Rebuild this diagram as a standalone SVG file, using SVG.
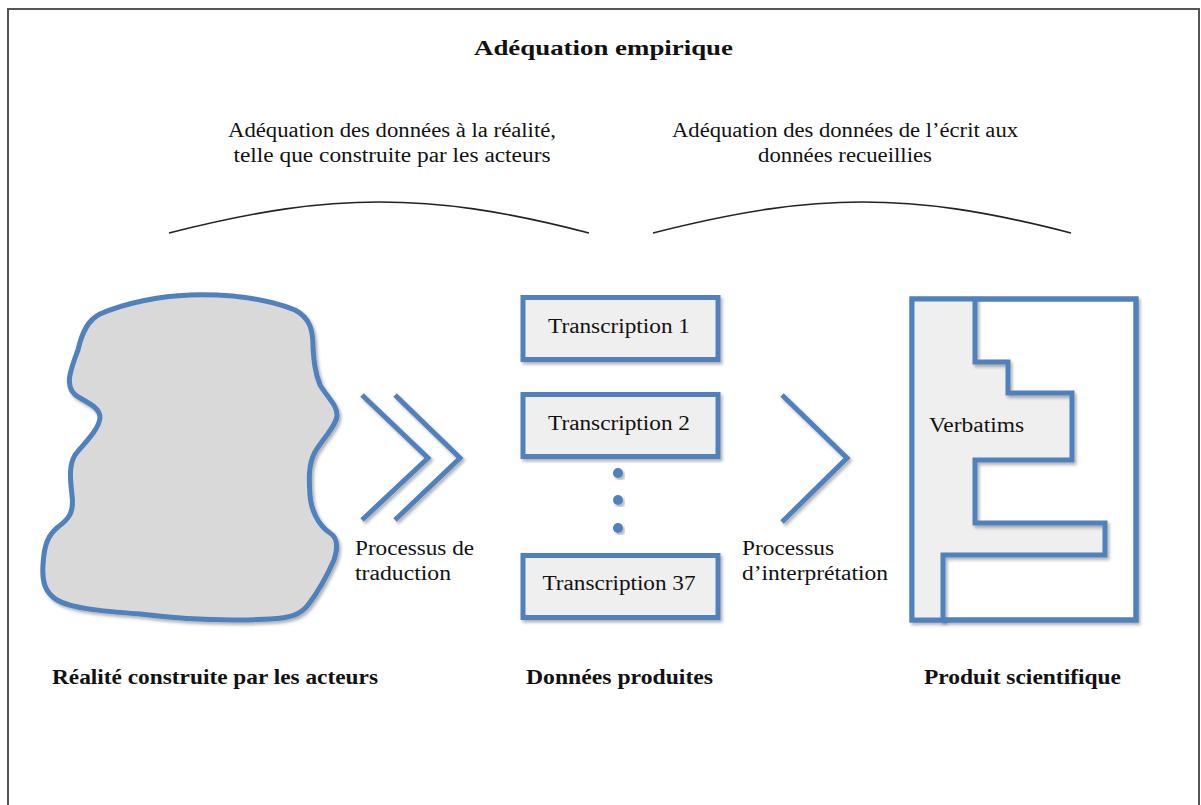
<svg xmlns="http://www.w3.org/2000/svg" width="1201" height="805" viewBox="0 0 1201 805">
  <defs>
    <filter id="shadow" x="-10%" y="-10%" width="130%" height="130%">
      <feDropShadow dx="2" dy="2.5" stdDeviation="1.8" flood-color="#000" flood-opacity="0.3"/>
    </filter>
  </defs>
  <style>
    .txt { font-family: "Liberation Serif", "Times New Roman", serif; font-size: 20.5px; fill: #111; }
    .bold { font-weight: bold; font-size: 21px; }
    .blue { fill: none; stroke: #4f81bd; stroke-width: 5; }
    .box { fill: #efefef; stroke: #4f81bd; stroke-width: 5; filter: url(#shadow); }
    .brace { fill: none; stroke: #222; stroke-width: 1.6; }
  </style>

  <rect x="0" y="0" width="1201" height="805" fill="#ffffff"/>
  <!-- page frame -->
  <rect x="8" y="9" width="1191" height="830" fill="none" stroke="#555" stroke-width="2"/>

  <!-- title -->
  <text class="txt bold" x="603.5" y="55" text-anchor="middle" textLength="259" lengthAdjust="spacingAndGlyphs">Adéquation empirique</text>

  <!-- upper captions -->
  <g id="caption-left">
    <text class="txt" x="392" y="137" text-anchor="middle" textLength="328" lengthAdjust="spacingAndGlyphs">Adéquation des données à la réalité,</text>
    <text class="txt" x="392" y="162" text-anchor="middle" textLength="317" lengthAdjust="spacingAndGlyphs">telle que construite par les acteurs</text>
  </g>
  <g id="caption-right">
    <text class="txt" x="845" y="137" text-anchor="middle" textLength="346" lengthAdjust="spacingAndGlyphs">Adéquation des données de l’écrit aux</text>
    <text class="txt" x="845" y="162" text-anchor="middle" textLength="174" lengthAdjust="spacingAndGlyphs">données recueillies</text>
  </g>

  <!-- brackets -->
  <g id="brackets">
    <path class="brace" d="M169,233 C260,210 320,202 379,202 C440,202 500,210 589,233"/>
    <path class="brace" d="M653,233 C744,210 804,202 862,202 C922,202 982,210 1071,233"/>
  </g>

  <!-- reality blob -->
  <g id="reality">
    <path d="M78,350 C82,332 88,320 100,314 C125,303 160,296 190,295 C230,294 265,298 295,310 C310,318 313,330 313,347 C314,362 315,372 320,385 C328,398 337,405 337,415 C337,425 322,440 315,452 C308,465 309,480 310,495 C311,510 318,525 330,533 C338,538 338,548 334,560 C326,578 318,592 308,605 C300,615 290,618 270,619 C230,621 180,619 140,614 C100,611 70,608 57,600 C44,592 42,580 43,565 C44,545 48,535 58,527 C70,518 74,512 72,495 C70,478 69,465 75,455 C82,445 98,432 100,418 C100,408 90,404 80,398 C70,393 68,385 70,375 C72,365 75,358 78,350 Z" fill="#d9d9d9" stroke="#4f81bd" stroke-width="5" filter="url(#shadow)"/>
  </g>

  <!-- data boxes -->
  <g id="transcription-1">
    <rect class="box" x="523" y="297.5" width="195" height="62"/>
    <text class="txt" x="619" y="333" text-anchor="middle" textLength="142" lengthAdjust="spacingAndGlyphs">Transcription 1</text>
  </g>
  <g id="transcription-2">
    <rect class="box" x="523" y="394.5" width="195" height="62"/>
    <text class="txt" x="619" y="430" text-anchor="middle" textLength="142" lengthAdjust="spacingAndGlyphs">Transcription 2</text>
  </g>
  <g id="ellipsis">
    <circle cx="618" cy="473" r="5" fill="#4f81bd" filter="url(#shadow)"/>
    <circle cx="618" cy="500" r="5" fill="#4f81bd" filter="url(#shadow)"/>
    <circle cx="618" cy="528" r="5" fill="#4f81bd" filter="url(#shadow)"/>
  </g>
  <g id="transcription-37">
    <rect class="box" x="523" y="555.5" width="195" height="62"/>
    <text class="txt" x="619" y="590" text-anchor="middle" textLength="153" lengthAdjust="spacingAndGlyphs">Transcription 37</text>
  </g>

  <!-- scientific product -->
  <g id="product">
    <rect x="912" y="299" width="224" height="321" fill="#ffffff" stroke="#4f81bd" stroke-width="5" filter="url(#shadow)"/>
    <path d="M912,299 L975,299 L975,362 L1008,362 L1008,393 L1072,393 L1072,460 L975,460 L975,523 L1105,523 L1105,555 L943,555 L943,620 L912,620 Z" fill="#efefef"/>
    <path class="blue" d="M975,297 L975,362 L1008,362 L1008,393 L1072,393 L1072,460 L975,460 L975,523 L1105,523 L1105,555 L943,555 L943,622" filter="url(#shadow)"/>
    <rect x="912" y="299" width="224" height="321" fill="none" stroke="#4f81bd" stroke-width="5"/>
    <text class="txt" x="929" y="432" textLength="95" lengthAdjust="spacingAndGlyphs">Verbatims</text>
  </g>

  <!-- process arrows -->
  <g id="connectors">
    <polyline class="blue" points="362,395 428,458 362,520" filter="url(#shadow)"/>
    <polyline class="blue" points="395,395 460,458 395,520" filter="url(#shadow)"/>
    <polyline class="blue" points="782,395 847,458 782,522" filter="url(#shadow)"/>
  </g>

  <g id="label-translation">
    <text class="txt" x="355" y="555" textLength="119" lengthAdjust="spacingAndGlyphs">Processus de</text>
    <text class="txt" x="355" y="580" textLength="96" lengthAdjust="spacingAndGlyphs">traduction</text>
  </g>
  <g id="label-interpretation">
    <text class="txt" x="742" y="555" textLength="92" lengthAdjust="spacingAndGlyphs">Processus</text>
    <text class="txt" x="742" y="580" textLength="146" lengthAdjust="spacingAndGlyphs">d’interprétation</text>
  </g>

  <!-- column titles -->
  <g id="column-titles">
    <text class="txt bold" x="52" y="684" textLength="326" lengthAdjust="spacingAndGlyphs">Réalité construite par les acteurs</text>
    <text class="txt bold" x="526" y="684" textLength="187" lengthAdjust="spacingAndGlyphs">Données produites</text>
    <text class="txt bold" x="924" y="684" textLength="197" lengthAdjust="spacingAndGlyphs">Produit scientifique</text>
  </g>
</svg>
